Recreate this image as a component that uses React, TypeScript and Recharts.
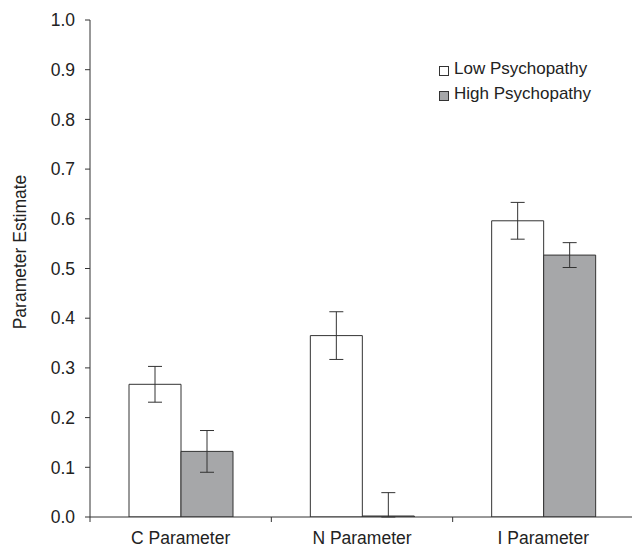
import React from 'react';
import { BarChart, Bar, XAxis, YAxis, ErrorBar } from 'recharts';

const categories = ['C Parameter', 'N Parameter', 'I Parameter'];
const lowValues = [0.267, 0.365, 0.596];
const lowErrors = [0.036, 0.048, 0.037];
const highValues = [0.132, 0.002, 0.527];
const highErrors: (number | number[])[] = [0.042, [0.002, 0.047], 0.025];
const yTicks = [0, 0.1, 0.2, 0.3, 0.4, 0.5, 0.6, 0.7, 0.8, 0.9, 1.0];
const seriesNames = ['Low Psychopathy', 'High Psychopathy'];
const seriesFills = ['#ffffff', '#a6a7a9'];

const data = categories.map((c, i) => ({
  name: c,
  low: lowValues[i],
  lowErr: lowErrors[i],
  high: highValues[i],
  highErr: highErrors[i],
}));

const FONT = '"Liberation Sans", Arial, sans-serif';
const TEXT = '#222';
const LINE = '#333';
const CHART_W = 635;
const CHART_H = 548;
const LEFT = 90;
const RIGHT = 1;
const HALF_BAND = (CHART_W - LEFT - RIGHT) / categories.length / 2;

const XTick = (props: any) => {
  const { x, y, payload, index } = props;
  return (
    <g>
      <line x1={x + HALF_BAND} x2={x + HALF_BAND} y1={y} y2={y + 5} stroke={LINE} />
      {index === 0 && (
        <line x1={x - HALF_BAND} x2={x - HALF_BAND} y1={y} y2={y + 5} stroke={LINE} />
      )}
      <text x={x} y={y + 27} textAnchor="middle" fontSize={17.5} fill={TEXT} fontFamily={FONT}>
        {payload.value}
      </text>
    </g>
  );
};

const LegendBox = () => (
  <div
    style={{
      position: 'absolute',
      left: 439,
      top: 56,
      fontFamily: FONT,
      fontSize: 17,
      color: TEXT,
      lineHeight: '25px',
    }}
  >
    {seriesNames.map((n, i) => (
      <div key={n} style={{ display: 'flex', alignItems: 'center', whiteSpace: 'nowrap' }}>
        <span
          style={{
            display: 'inline-block',
            width: 8,
            height: 8,
            border: `1px solid ${LINE}`,
            background: seriesFills[i],
            marginRight: 5,
            marginTop: 4,
          }}
        />
        <span>{n}</span>
      </div>
    ))}
  </div>
);

export default function App() {
  return (
    <div style={{ position: 'absolute', left: 0, top: 0, width: 632, height: 548, overflow: 'hidden', background: '#fff' }}>
      <BarChart
        width={CHART_W}
        height={CHART_H}
        data={data}
        margin={{ top: 20, right: RIGHT, bottom: 0, left: 0 }}
        barGap={0}
        barSize={52}
      >
        <XAxis
          dataKey="name"
          height={31}
          axisLine={{ stroke: LINE }}
          tickLine={false}
          tickSize={0}
          tickMargin={0}
          tick={<XTick />}
          interval={0}
        />
        <YAxis
          width={LEFT}
          domain={[0, 1]}
          allowDataOverflow
          ticks={yTicks}
          tickFormatter={(v: number) => v.toFixed(1)}
          axisLine={{ stroke: LINE }}
          tickLine={{ stroke: LINE }}
          tickSize={5}
          tickMargin={10}
          tick={{ fontSize: 17.5, fill: TEXT, fontFamily: FONT }}
          label={{
            content: () => (
              <text
                x={20}
                y={252}
                transform="rotate(-90 20 252)"
                textAnchor="middle"
                dominantBaseline="central"
                fontSize={17.5}
                fill={TEXT}
                fontFamily={FONT}
              >
                Parameter Estimate
              </text>
            ),
          }}
        />
        <Bar dataKey="low" name={seriesNames[0]} fill={seriesFills[0]} stroke={LINE} strokeWidth={1} isAnimationActive={false}>
          <ErrorBar dataKey="lowErr" width={7} stroke={LINE} strokeWidth={1} />
        </Bar>
        <Bar dataKey="high" name={seriesNames[1]} fill={seriesFills[1]} stroke={LINE} strokeWidth={1} isAnimationActive={false}>
          <ErrorBar dataKey="highErr" width={7} stroke={LINE} strokeWidth={1} />
        </Bar>
      </BarChart>
      <LegendBox />
    </div>
  );
}
